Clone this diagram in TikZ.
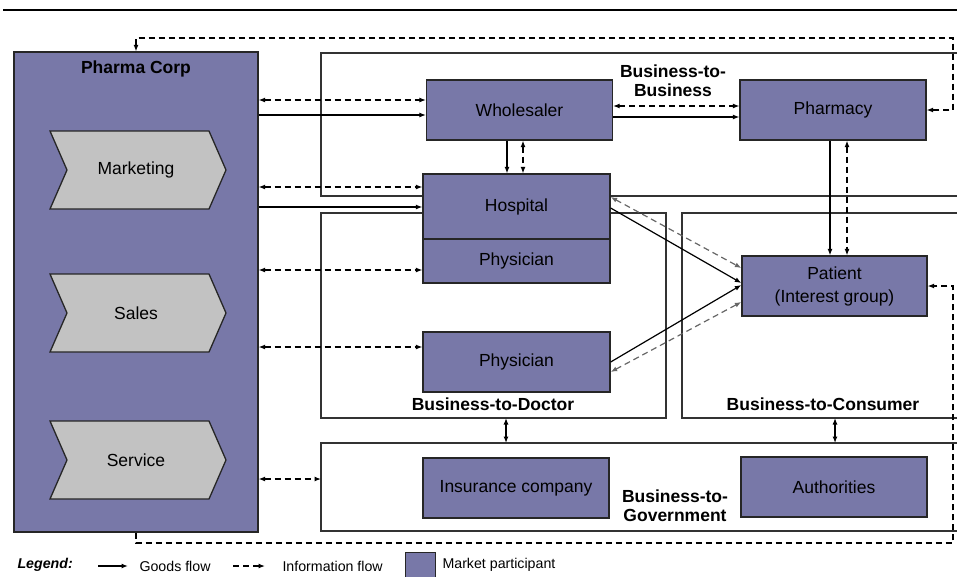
\documentclass[tikz,border=0pt]{standalone}
\usepackage{fontspec}
\setmainfont{Liberation Sans}
\usetikzlibrary{arrows.meta}
\definecolor{partfill}{RGB}{120,120,168}
\definecolor{chevfill}{RGB}{194,194,194}
\newcommand{\legfont}{\fontsize{14.2}{17}\selectfont}

\tikzset{
  part/.style={draw=black!85,line width=1.3pt,fill=partfill,inner sep=0pt,
    minimum width=186pt,minimum height=60pt},
  frame/.style={draw=black!80,line width=1.1pt},
  chev/.style={draw=black!85,line width=1.3pt,fill=chevfill},
  lbl/.style={font=\fontsize{17.5}{19}\selectfont\bfseries,align=center},
  legtxt/.style={font=\legfont,anchor=west},
  goods/.style={line width=1.2pt},
  info/.style={line width=1.2pt,dash pattern=on 6pt off 4pt}
}

\begin{document}
\begin{tikzpicture}[x=1pt,y=-1pt,>={Latex[length=6.5pt,width=5pt]},
  font=\fontsize{17.5}{21}\selectfont]
  \useasboundingbox (0,0) rectangle (957,576);
  \clip (0,0) rectangle (957,576);
  \draw[line width=1.8pt] (3,10) -- (957,10);

  % segment frames, open to the right
  \draw[frame] (965,53) -| (321,196) -- (965,196);
  \draw[frame] (321,213) rectangle (666,418);
  \draw[frame] (965,213) -| (682,418) -- (965,418);
  \draw[frame] (965,443) -| (321,531) -- (965,531);
  \node[lbl] (b2b) at (673,81) {Business-to-\\Business};
  \node[lbl] (b2d) at (493,404) {Business-to-Doctor};
  \node[lbl] (b2c) at (823,404) {Business-to-Consumer};
  \node[lbl] (b2g) at (675,506) {Business-to-\\Government};
  \coordinate (b2dS) at (506,418);
  \coordinate (b2cS) at (835,418);
  \coordinate (b2gA) at (506,443);
  \coordinate (b2gB) at (835,443);
  \coordinate (b2gW) at (321,479);

  % the company and its functions
  \node[part,minimum width=244pt,minimum height=480pt] (pharma) at (136,292) {};
  \node[lbl] (pharmalbl) at (136,69) {Pharma Corp};
  \foreach \y/\nm/\txt in {170/mkt/Marketing,313/sales/Sales,460/serv/Service}{
    \draw[chev] (50,\y-39) -- (209,\y-39) -- (226,\y) -- (209,\y+39)
      -- (50,\y+39) -- (67,\y) -- cycle;
    \node (\nm) at (136,\y) {\txt};
  }

  % market participants
  \node[part] (whole) at (519.5,110) {Wholesaler};
  \node[part] (pharmacy) at (833,110) {Pharmacy};
  \node[part,minimum width=187pt,minimum height=65pt] (hosp) at (516.5,206.5) {Hospital};
  \node[part,minimum width=187pt,minimum height=44pt] (phys1) at (516.5,261) {Physician};
  \node[part,minimum width=187pt] (phys2) at (516.5,362) {Physician};
  \node[part,align=center,minimum width=185pt] (patient) at (834.5,286)
    {Patient\\[2pt](Interest group)};
  \node[part] (insur) at (516,488) {Insurance company};
  \node[part] (auth) at (834,487) {Authorities};

  % flows out of the company
  \draw[info,<->] (pharma.east |- 0,100) -- (whole.west |- 0,100);
  \draw[goods,->] (pharma.east |- 0,115) -- (whole.west |- 0,115);
  \draw[info,<->] (pharma.east |- 0,187) -- (hosp.west |- 0,187);
  \draw[goods,->] (pharma.east |- 0,207) -- (hosp.west |- 0,207);
  \draw[info,<->] (pharma.east |- 0,270) -- (phys1.west |- 0,270);
  \draw[info,<->] (pharma.east |- 0,347) -- (phys2.west |- 0,347);
  \draw[info,<->] (pharma.east |- b2gW) -- (b2gW);

  % flows between participants
  \draw[info,<->] (whole.east |- 0,106) -- (pharmacy.west |- 0,106);
  \draw[goods,->] (whole.east |- 0,117) -- (pharmacy.west |- 0,117);
  \draw[goods,->] (whole.south -| 507,0) -- (hosp.north -| 507,0);
  \draw[info,<->] (whole.south -| 523,0) -- (hosp.north -| 523,0);
  \draw[goods,->] (pharmacy.south -| 830,0) -- (patient.north -| 830,0);
  \draw[info,<->] (pharmacy.south -| 847,0) -- (patient.north -| 847,0);
  \draw[goods,->] (hosp.east |- 0,208) -- (patient.west |- 0,283);
  \draw[goods,->] (phys2.east) -- (patient.west |- 0,285);
  \draw[info,<->,black!60] (hosp.east |- 0,197) -- (patient.west |- 0,268);
  \draw[info,<->,black!60] (phys2.east |- 0,372) -- (patient.west |- 0,302);
  \draw[goods,<->] (b2dS) -- (b2gA);
  \draw[goods,<->] (b2cS) -- (b2gB);

  % feedback loops round the whole market
  \coordinate (loopT) at (953,38);
  \coordinate (loopB) at (953,543);
  \draw[info,<->] (pharma.north) |- (loopT) |- (pharmacy.east);
  \draw[info,->] (pharma.south) |- (loopB) |- (patient.east);

  % legend
  \node[legtxt,font=\legfont\bfseries\itshape] (leg) at (14,565) {Legend:};
  \node[legtxt] (goodslbl) at (136,566) {Goods flow};
  \node[legtxt] (infolbl) at (279,566) {Information flow};
  \draw[goods,line width=1.6pt,->] (goodslbl.west) ++(-38,0) -- ++(30,0);
  \draw[info,->] (infolbl.west) ++(-46,0) -- ++(32,0);
  \node[part,minimum width=30pt,minimum height=30pt,anchor=north west] (mpbox) at (405,552) {};
  \node[legtxt] (mplbl) at (439,565) {Market participant};
\end{tikzpicture}
\end{document}
